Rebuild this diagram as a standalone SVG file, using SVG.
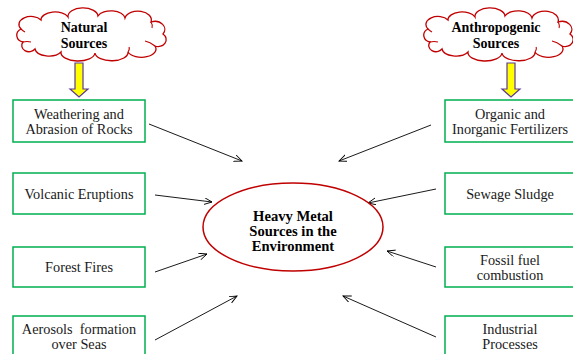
<svg xmlns="http://www.w3.org/2000/svg" width="573" height="354" viewBox="0 0 573 354">
<defs>
<style>
.box{fill:#fff;stroke:#00b050;stroke-width:1.5}
.t{font-family:"Liberation Serif","Times New Roman",serif;font-size:14.3px;fill:#1a1a1a;text-anchor:middle;white-space:pre}
.b{font-family:"Liberation Serif","Times New Roman",serif;font-size:14px;font-weight:bold;fill:#000;text-anchor:middle}
.e{font-family:"Liberation Serif","Times New Roman",serif;font-size:14.6px;font-weight:bold;fill:#000;text-anchor:middle}
.cloud{fill:#fff;stroke:#c00000;stroke-width:1.3}
.inner{fill:none;stroke:#c00000;stroke-width:1.1}
.ya{fill:#ffff00;stroke:#5b3a96;stroke-width:1.2}
.c{stroke:#000;stroke-width:0.9;fill:none;marker-end:url(#ah)}
</style>
<marker id="ah" markerWidth="10" markerHeight="10" refX="8" refY="3.5" orient="auto" markerUnits="userSpaceOnUse">
<path d="M0,0 L8,3.5 L0,7" fill="none" stroke="#000" stroke-width="0.9"/>
</marker>
<g id="cloudShape">
<path class="cloud" d="M10,28 A8,7 0 0 1 8,15 A12,8 0 0 1 28,6 A14,8 0 0 1 55,3 A14,8 0 0 1 85,2 A14,8 0 0 1 112,4 A12,8 0 0 1 138,8 A10,8 0 0 1 150,20 A8,7 0 0 1 142,32 A14,8 0 0 1 115,38 A16,8 0 0 1 82,39 A16,8 0 0 1 48,38 A14,8 0 0 1 22,35 A7,6 0 0 1 10,28 Z"/>
<path class="inner" d="M10,28 Q14,27 18,28 M8,15 Q10,17 12,18 M138,8 Q140,11 139,14 M142,32 Q137,28 132,27 M115,38 Q117,35 116,33"/>
</g>
</defs>

<g id="connectors">
<line class="c" x1="149" y1="124" x2="242" y2="161"/>
<line class="c" x1="155" y1="195" x2="212" y2="202"/>
<line class="c" x1="155" y1="272" x2="207" y2="254"/>
<line class="c" x1="155" y1="340" x2="237" y2="296"/>
<line class="c" x1="431" y1="125" x2="339" y2="161"/>
<line class="c" x1="436" y1="189" x2="368" y2="203"/>
<line class="c" x1="436" y1="267" x2="387" y2="251"/>
<line class="c" x1="436" y1="337" x2="343" y2="296"/>
</g>

<g id="natural-sources">
<use href="#cloudShape" transform="translate(13,14)"/>
<text class="b" x="84" y="32">Natural</text>
<text class="b" x="84" y="48">Sources</text>
</g>
<g id="anthropogenic-sources">
<use href="#cloudShape" transform="translate(420,14)"/>
<text class="b" x="496" y="32">Anthropogenic</text>
<text class="b" x="496" y="48">Sources</text>
</g>

<g id="arrow-natural">
<polygon class="ya" points="75,63 83,63 83,89 88,89 79,97 70,89 75,89"/>
</g>
<g id="arrow-anthropogenic">
<polygon class="ya" points="507,63 515,63 515,89 520,89 511,97 502,89 507,89"/>
</g>

<g id="weathering">
<rect class="box" x="13" y="100" width="132" height="42"/>
<text class="t" x="79" y="119">Weathering and</text>
<text class="t" x="79" y="134">Abrasion of Rocks</text>
</g>
<g id="volcanic">
<rect class="box" x="13" y="173" width="132" height="41"/>
<text class="t" x="79" y="199">Volcanic Eruptions</text>
</g>
<g id="forest">
<rect class="box" x="13" y="247" width="132" height="40"/>
<text class="t" x="79" y="272">Forest Fires</text>
</g>
<g id="aerosols">
<rect class="box" x="13" y="316" width="132" height="50"/>
<text class="t" x="79" y="334">Aerosols  formation</text>
<text class="t" x="79" y="349">over Seas</text>
</g>

<g id="fertilizers">
<rect class="box" x="445" y="100" width="132" height="42"/>
<text class="t" x="510" y="119">Organic and</text>
<text class="t" x="510" y="134">Inorganic Fertilizers</text>
</g>
<g id="sewage">
<rect class="box" x="445" y="173" width="132" height="41"/>
<text class="t" x="510" y="199">Sewage Sludge</text>
</g>
<g id="fossil">
<rect class="box" x="445" y="247" width="132" height="40"/>
<text class="t" x="510" y="265">Fossil fuel</text>
<text class="t" x="510" y="280">combustion</text>
</g>
<g id="industrial">
<rect class="box" x="445" y="316" width="132" height="50"/>
<text class="t" x="510" y="334">Industrial</text>
<text class="t" x="510" y="349">Processes</text>
</g>

<g id="center">
<ellipse cx="293" cy="227" rx="90" ry="44" fill="#fff" stroke="#c00000" stroke-width="1.5"/>
<text class="e" x="293" y="221">Heavy Metal</text>
<text class="e" x="293" y="236">Sources in the</text>
<text class="e" x="293" y="251">Environment</text>
</g>
</svg>
